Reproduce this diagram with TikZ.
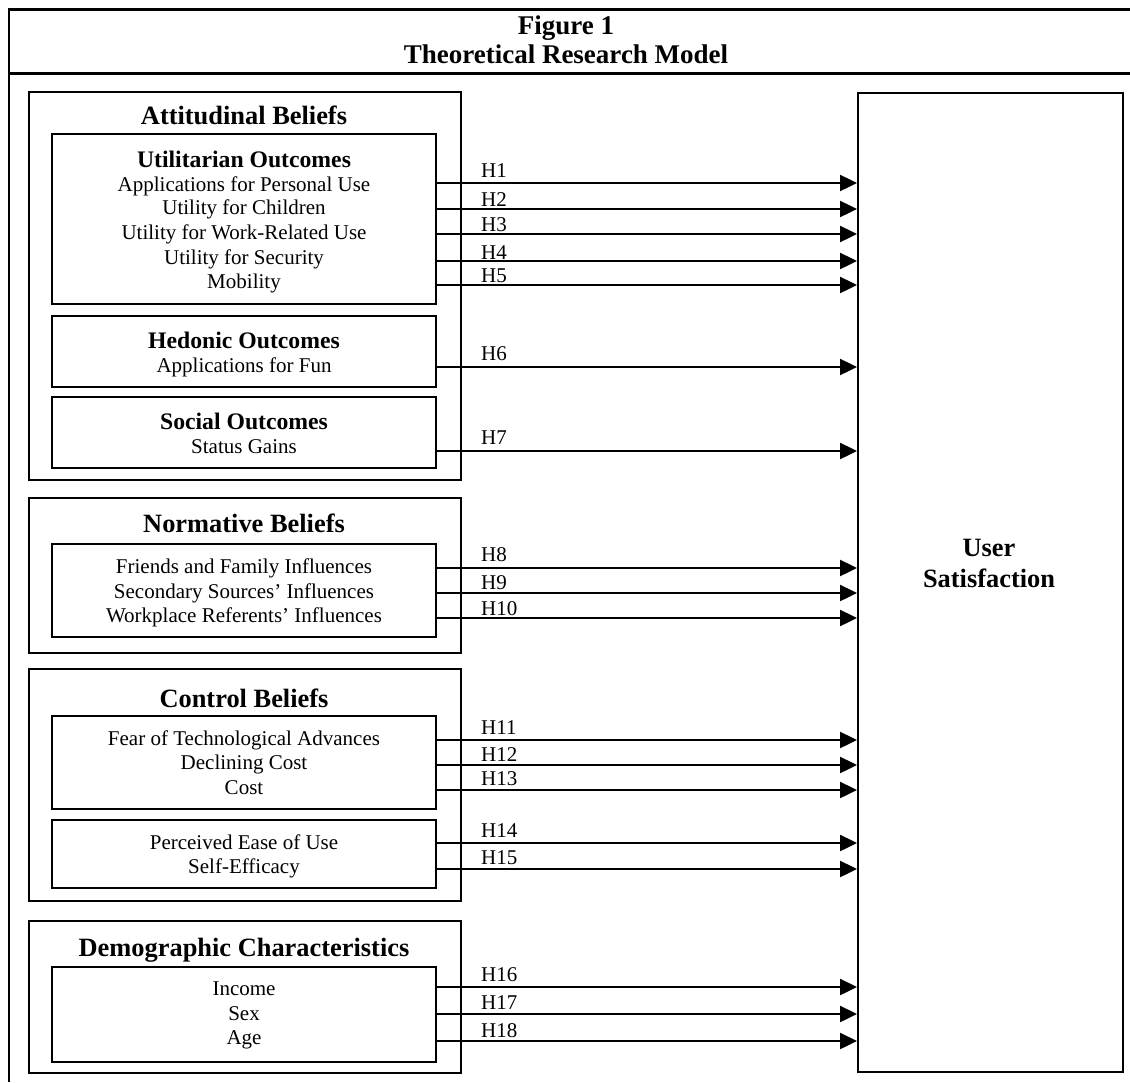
\documentclass[tikz,border=0pt]{standalone}
\usepackage{fontspec}
\setmainfont{Liberation Serif}
\usetikzlibrary{arrows.meta}
\newcommand\fbody{\fontsize{21}{25}\selectfont}
\newcommand\fhead{\bfseries\fontsize{26.4}{30}\selectfont}
\newcommand\ftitle{\bfseries\fontsize{27}{30}\selectfont}
\newcommand\fsub{\bfseries\fontsize{23.7}{28}\selectfont}
\tikzset{
  box/.style={draw, line width=2pt, inner sep=0pt, anchor=north west},
  frame/.style={line width=2.7pt},
  arr/.style={line width=2.4pt, -{Triangle[length=17pt,width=16pt]}},
  ln/.style={anchor=base, inner sep=0pt, font=\fbody},
  hd/.style={anchor=base, inner sep=0pt, font=\fhead},
  tt/.style={anchor=base, inner sep=0pt, font=\ftitle},
  sb/.style={anchor=base, inner sep=0pt, font=\fsub},
  hl/.style={anchor=base west, inner sep=0pt, font=\fbody},
}
\begin{document}
\begin{tikzpicture}[x=1pt,y=-1pt]
\useasboundingbox (0,0) rectangle (1130,1082);
% frame
\draw[frame] (1130,9.5) -- (9,9.5) -- (9,1082);
\draw[frame] (9,73.5) -- (1130,73.5);
\node[tt] (t1) at (566,34) {Figure 1};
\node[tt] (t2) at (566,63) {Theoretical Research Model};
% boxes
\node[box, minimum width=432, minimum height=388] (att) at (28,91) {};
\node[box, minimum width=384, minimum height=170] (ut) at (51,133) {};
\node[box, minimum width=384, minimum height=71] (he) at (51,315) {};
\node[box, minimum width=384, minimum height=71] (so) at (51,396) {};
\node[box, minimum width=432, minimum height=155] (nor) at (28,497) {};
\node[box, minimum width=384, minimum height=93] (nb) at (51,543) {};
\node[box, minimum width=432, minimum height=232] (con) at (28,668) {};
\node[box, minimum width=384, minimum height=93] (cba) at (51,715) {};
\node[box, minimum width=384, minimum height=68] (cbb) at (51,819) {};
\node[box, minimum width=432, minimum height=152] (dem) at (28,920) {};
\node[box, minimum width=384, minimum height=95] (dc) at (51,966) {};
\node[box, minimum width=265, minimum height=979] (us) at (857,92) {};
% texts
\node[hd] (attT) at (244,124) {Attitudinal Beliefs};
\node[sb] (utT) at (244,167) {Utilitarian Outcomes};
\node[ln] (u1) at (244,191) {Applications for Personal Use};
\node[ln] (u2) at (244,214.5) {Utility for Children};
\node[ln] (u3) at (244,239) {Utility for Work-Related Use};
\node[ln] (u4) at (244,264) {Utility for Security};
\node[ln] (u5) at (244,288) {Mobility};
\node[sb] (heT) at (244,348) {Hedonic Outcomes};
\node[ln] (h1) at (244,372) {Applications for Fun};
\node[sb] (soT) at (244,429) {Social Outcomes};
\node[ln] (s1) at (244,453) {Status Gains};
\node[hd] (norT) at (244,532) {Normative Beliefs};
\node[ln] (n1) at (244,573) {Friends and Family Influences};
\node[ln] (n2) at (244,598) {Secondary Sources’ Influences};
\node[ln] (n3) at (244,622) {Workplace Referents’ Influences};
\node[hd] (conT) at (244,707) {Control Beliefs};
\node[ln] (c1) at (244,745) {Fear of Technological Advances};
\node[ln] (c2) at (244,769) {Declining Cost};
\node[ln] (c3) at (244,794) {Cost};
\node[ln] (c4) at (244,849) {Perceived Ease of Use};
\node[ln] (c5) at (244,873) {Self-Efficacy};
\node[hd] (demT) at (244,956) {Demographic Characteristics};
\node[ln] (d1) at (244,995) {Income};
\node[ln] (d2) at (244,1020) {Sex};
\node[ln] (d3) at (244,1044) {Age};
\node[hd] (usA) at (989,556) {User};
\node[hd] (usB) at (989,587) {Satisfaction};
% arrows and labels
\foreach \b/\y/\ly/\t in {ut/183/177/H1, ut/209/206/H2, ut/234/231/H3, ut/261/259/H4, ut/285/282/H5,
  he/367/360/H6, so/451/444/H7, nb/568/561/H8, nb/593/589/H9, nb/618/615/H10,
  cba/740/734/H11, cba/765/761/H12, cba/790/785/H13, cbb/843/837/H14, cbb/869/864/H15,
  dc/987/981/H16, dc/1014/1009/H17, dc/1041/1037/H18} {
  \draw[arr] (\b.east |- 0,\y) -- (us.west |- 0,\y);
  \node[hl] (l\t) at (481,\ly) {\t};
}
\end{tikzpicture}
\end{document}
